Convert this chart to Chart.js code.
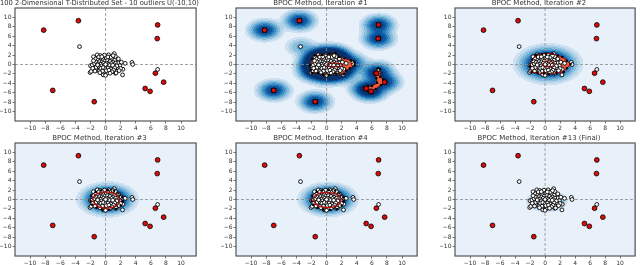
<!DOCTYPE html>
<html>
<head>
<meta charset="utf-8">
<script src="https://cdn.jsdelivr.net/npm/chart.js@4.4.1/dist/chart.umd.min.js"></script>
<style>
  html, body { margin: 0; padding: 0; background: #fff; overflow: hidden; }
  #wrap { position: relative; width: 640px; height: 265px; }
  .cell { position: absolute; }
</style>
</head>
<body>
<div id="wrap"></div>
<script>
const titles = [
  "100 2-Dimensional T-Distributed Set - 10 outliers U(-10,10)",
  "BPOC Method, Iteration #1",
  "BPOC Method, Iteration #2",
  "BPOC Method, Iteration #3",
  "BPOC Method, Iteration #4",
  "BPOC Method, Iteration #13 (Final)"
]
const tickValues = [-10, -8, -6, -4, -2, 0, 2, 4, 6, 8, 10]

// 100 t-distributed inliers (white) and 10 uniform outliers (red)
const inliers = [
  [-3.45, 3.8], [-1.6, 1.65], [-1.1, 2.05], [-0.7, 1.9], [-0.2, 1.7], [0.35, 1.85], [0.8, 1.75], [1.15, 2.3],
  [1.1, 1.45], [1.45, 0.75], [1.65, 0.4], [1.9, -0.25], [1.6, -0.7], [1.35, -1.4], [1.3, -1.85], [2.3, -1.0],
  [2.25, -2.2], [2.6, 0.25], [3.5, 0.45], [3.6, 0.0], [-2.0, -0.25], [-2.05, -1.7], [-1.9, -1.45], [-1.45, -0.3],
  [-1.1, -1.2], [-0.8, -1.0], [-0.3, -2.2], [0.05, -2.1], [0.25, -1.8], [0.55, -1.4], [0.8, -1.0], [6.9, -1.05],
  [-1.75, -0.1], [-1.45, 0.2], [2.0, -0.85], [1.4, -1.8], [0.0, -2.3], [-0.8, -1.35], [0.4, 2.05], [1.5, 1.05],
  [-1.3, 1.2], [-1.0, 0.9], [-0.6, 1.3], [-0.3, 1.05], [0.1, 1.4], [0.5, 1.2], [0.9, 1.1], [1.2, 0.9],
  [-1.2, 0.5], [-0.8, 0.6], [-0.45, 0.55], [-0.1, 0.7], [0.25, 0.85], [0.6, 0.65], [1.0, 0.5], [1.3, 0.3],
  [-1.0, 0.15], [-0.6, 0.1], [-0.25, 0.25], [0.15, 0.3], [0.45, 0.1], [0.8, 0.2], [1.15, -0.05], [1.5, -0.3],
  [-1.25, -0.6], [-0.85, -0.45], [-0.5, -0.3], [-0.15, -0.15], [0.2, -0.35], [0.55, -0.2], [0.9, -0.45], [1.2, -0.7],
  [-0.6, -0.8], [-0.3, -0.65], [0.05, -0.9], [0.35, -0.75], [0.7, -0.95], [1.05, -1.2], [-0.4, -1.4], [0.1, -1.3],
  [0.45, -1.2], [0.85, -1.55], [-0.9, 1.6], [-0.15, 2.0], [0.7, 1.55], [1.3, 1.7], [-1.6, 0.8], [-1.7, -0.8],
  [-1.4, -1.4], [1.7, 1.2], [1.8, -1.3], [-0.5, 1.65], [0.3, 1.6], [0.0, 0.0], [-0.75, -1.75], [0.6, -1.85],
  [1.0, 1.9], [-1.05, -0.1], [0.95, -0.15], [2.1, 0.5]
]
const outliers = [
  [-8.2, 7.3], [-3.6, 9.3], [6.9, 8.4], [6.85, 5.5], [-7.0, -5.5],
  [-1.5, -7.9], [5.25, -5.1], [5.9, -5.7], [6.6, -1.85], [7.7, -3.75]
]

// boundary regions (red) per iteration
const hullIter1 = [
  [-2.2, -0.2], [-1.9, 1.2], [-1.6, 1.9], [-0.6, 2.0], [0.4, 2.2], [1.2, 2.45], [1.6, 1.6], [2.4, 1.3],
  [3.2, 0.9], [3.7, 0.6], [3.7, -0.2], [3.1, -0.8], [2.6, -1.3], [2.3, -2.1], [1.3, -1.9], [0.3, -2.2],
  [-0.4, -2.2], [-1.1, -1.8], [-1.9, -1.8], [-2.1, -1.2], [-2.2, -0.2]
]
const tailIter1 = [
  [5.0, -4.9], [5.4, -5.6], [5.9, -6.05], [6.5, -5.2], [7.2, -4.4], [7.9, -3.7], [7.5, -3.2], [7.1, -2.6],
  [7.1, -1.0], [6.8, -0.8], [6.4, -1.8], [6.6, -2.9], [6.7, -3.9], [6.0, -4.6], [5.5, -4.6], [5.0, -4.9]
]
const coreIter1 = [
  [0.0, -0.1], [0.4, 0.25], [1.2, 0.3], [2.0, 0.15], [2.1, -0.3], [1.2, -0.5], [0.3, -0.45], [0.0, -0.1]
]
const hullIter2 = [
  [-2.0, -0.4], [-1.7, 1.0], [-1.2, 2.0], [-0.4, 2.2], [0.1, 2.35], [1.0, 2.3], [1.7, 1.9], [2.3, 1.6],
  [2.9, 0.8], [3.4, 0.1], [2.9, -0.8], [2.5, -1.6], [1.5, -1.8], [0.5, -2.0], [-0.1, -1.9], [-1.0, -1.8],
  [-1.8, -1.6], [-2.0, -0.4]
]
const coreIter2 = [
  [-0.3, 0.1], [0.1, 0.7], [0.7, 0.8], [1.2, 0.3], [1.0, -0.4], [0.3, -0.5], [-0.2, -0.3], [-0.3, 0.1]
]
const ringIter3 = [
  [-1.7, 0.2], [-1.4, 1.0], [-0.7, 1.5], [0.2, 1.6], [1.0, 1.4], [1.6, 0.8], [1.9, -0.1], [1.6, -1.1],
  [0.9, -1.7], [0.0, -1.9], [-0.9, -1.6], [-1.5, -0.8], [-1.7, 0.2]
]
const ringIter4 = [
  [-1.8, 0.0], [-1.5, 0.9], [-0.8, 1.4], [0.2, 1.5], [1.1, 1.3], [1.7, 0.7], [1.9, -0.2], [1.6, -1.0],
  [0.9, -1.6], [0.0, -1.7], [-0.9, -1.5], [-1.5, -0.9], [-1.8, 0.0]
]
const edgeIter34 = [
  [-2.0, -0.3], [-1.9, 0.8], [-1.3, 1.6], [-0.6, 1.9], [0.3, 2.0], [1.1, 1.9], [1.7, 1.3], [2.2, 0.5],
  [2.3, -0.4], [2.0, -1.3], [1.4, -2.0], [0.5, -2.2], [-0.4, -2.2], [-1.2, -1.8], [-1.8, -1.1]
]
const coreFinal = [
  [-0.5, 0.2], [-0.3, 0.7], [0.3, 0.85], [0.8, 0.5], [0.85, -0.1], [0.4, -0.5], [-0.2, -0.45], [-0.5, 0.2]
]

// fitted density per iteration: [cx, cy, sx, sy, peak]
const gaussIter2 = [0.4, 0.1, 1.58, 1.5, 2.6]
const gaussIter3 = [0.25, 0.0, 1.4, 1.3, 2.6]
const gaussIter4 = [0.2, 0.0, 1.38, 1.28, 2.6]
const gaussFinal = [0.25, -0.35, 1.0, 0.84, 1.5]

// Blues contour levels
const blues = ["#e8f1fa", "#cde0f1", "#b0d2e8", "#8cbfdd", "#62a8d3", "#3f8fc5", "#2171b5", "#0d58a1", "#08468b", "#08306b"]
const cuts  = [0.03, 0.07, 0.13, 0.22, 0.33, 0.47, 0.62, 0.8, 1.0]

const pts = (arr) => arr.map(([x, y]) => ({ x, y }))

function kde(x, y) {
  const h2 = 2 * 1.0 * 1.0
  let s = 0
  for (const [px, py] of inliers)  s += 0.25 * Math.exp(-((x - px) ** 2 + (y - py) ** 2) / h2)
  for (const [px, py] of outliers) s += Math.exp(-((x - px) ** 2 + (y - py) ** 2) / h2)
  return s
}
const gauss = ([cx, cy, sx, sy, a]) => (x, y) =>
  a * Math.exp(-0.5 * (((x - cx) / sx) ** 2 + ((y - cy) / sy) ** 2))

// background: filled density levels + dashed zero lines
function backdrop(field) {
  return {
    id: "backdrop",
    beforeDatasetsDraw(chart) {
      const { ctx, chartArea: a, scales: { x, y } } = chart
      ctx.save()
      if (field) {
        const l = Math.floor(a.left), r = Math.ceil(a.right)
        for (let py = Math.floor(a.top); py < a.bottom; py++) {
          const vy = y.getValueForPixel(py + 0.5)
          let start = l, cur = -1
          for (let px = l; px <= r; px++) {
            let lvl = -2
            if (px < r) {
              const v = field(x.getValueForPixel(px + 0.5), vy)
              lvl = 0
              while (lvl < cuts.length && v > cuts[lvl]) lvl++
            }
            if (lvl !== cur) {
              if (cur >= 0) { ctx.fillStyle = blues[cur]; ctx.fillRect(start, py, px - start, 1) }
              start = px; cur = lvl
            }
          }
        }
      }
      ctx.strokeStyle = "#8c8c8c"
      ctx.lineWidth = 0.8
      ctx.setLineDash([3, 2])
      const x0 = x.getPixelForValue(0), y0 = y.getPixelForValue(0)
      ctx.beginPath()
      ctx.moveTo(x0, a.top); ctx.lineTo(x0, a.bottom)
      ctx.moveTo(a.left, y0); ctx.lineTo(a.right, y0)
      ctx.stroke()
      ctx.restore()
    }
  }
}

const frame = {
  id: "frame",
  afterDatasetsDraw(chart) {
    const { ctx, chartArea: a } = chart
    ctx.save()
    ctx.strokeStyle = "#555"
    ctx.lineWidth = 1.2
    ctx.strokeRect(a.left, a.top, a.width, a.height)
    ctx.restore()
  }
}

function axis(which) {
  return {
    type: "linear", min: -12, max: 12,
    afterBuildTicks: (s) => { s.ticks = tickValues.map((v) => ({ value: v })) },
    afterFit: (s) => { if (which === "x") s.height = 11; else s.width = 15 },
    grid: { drawOnChartArea: false, drawTicks: true, tickLength: 2.5, color: "#555", lineWidth: 0.8 },
    border: { display: false },
    ticks: {
      font: { size: 6, family: "DejaVu Sans" }, color: "#333", padding: 1,
      maxRotation: 0, autoSkip: false,
      callback: (v) => String(v).replace("-", "\u2212")
    }
  }
}

const whiteDots = {
  data: pts(inliers), pointRadius: 1.9, pointBackgroundColor: "#fff",
  pointBorderColor: "#000", pointBorderWidth: 0.9
}
const redDots = (bw) => ({
  data: pts(outliers), pointRadius: 2.4, pointBackgroundColor: "#dd0a0a",
  pointBorderColor: "#000", pointBorderWidth: bw
})
const regionFill = (arr, color) => ({
  data: pts(arr), showLine: true, fill: "shape", backgroundColor: color,
  borderColor: color, borderWidth: 0.5, pointRadius: 0
})
const regionEdge = (arr, edge, width, markers) => ({
  data: pts(arr), showLine: true, fill: false,
  borderColor: edge, borderWidth: width,
  pointRadius: markers ? 1.5 : 0, pointStyle: "rect",
  pointBackgroundColor: "#000", pointBorderWidth: 0
})
const markersOnly = (arr, size) => ({
  data: pts(arr), showLine: false, pointRadius: size, pointStyle: "rect",
  pointBackgroundColor: "#000", pointBorderWidth: 0
})

const boxes = [
  [15, 8, 199, 121], [236, 8, 420, 121], [455, 8, 638, 121],
  [15, 143, 199, 256], [236, 143, 420, 256], [455, 143, 638, 256]
]

// datasets listed top-most first
const panels = [
  { field: null, datasets: [redDots(0.8), whiteDots] },
  { field: kde, datasets: [
      redDots(0.8),
      markersOnly(outliers, 3.4),
      regionEdge(coreIter1, "#8b0000", 1, false),
      regionEdge(hullIter1, "#300000", 0.8, true),
      regionEdge(tailIter1, "#300000", 0.8, true),
      whiteDots,
      regionFill(hullIter1, "#f0583c"),
      regionFill(tailIter1, "#f0583c")
  ] },
  { field: gauss(gaussIter2), datasets: [
      redDots(0.8),
      regionEdge(coreIter2, "#8b0000", 1, false),
      regionEdge(hullIter2, "#a01010", 1, true),
      whiteDots,
      regionFill(hullIter2, "#f0583c")
  ] },
  { field: gauss(gaussIter3), datasets: [
      redDots(0.8),
      regionEdge(ringIter3, "#b01010", 1.3, false),
      markersOnly(edgeIter34, 1.5),
      whiteDots,
      regionFill(ringIter3, "#e8503a")
  ] },
  { field: gauss(gaussIter4), datasets: [
      redDots(0.8),
      regionEdge(ringIter4, "#b01010", 1.3, false),
      markersOnly(edgeIter34, 1.5),
      whiteDots,
      regionFill(ringIter4, "#e8503a")
  ] },
  { field: gauss(gaussFinal), datasets: [
      redDots(0.8),
      whiteDots,
      regionEdge(coreFinal, "#a01010", 1, false),
      regionFill(coreFinal, "#e8503a")
  ] }
]

const wrap = document.getElementById("wrap")
panels.forEach((p, i) => {
  const [l, t, r, b] = boxes[i]
  const cell = document.createElement("div")
  cell.className = "cell"
  cell.style.left = (l - 15) + "px"
  cell.style.top = (t - 8) + "px"
  const cv = document.createElement("canvas")
  const w = r - l + 17, h = b - t + 19
  cv.width = w; cv.height = h
  cv.style.width = w + "px"; cv.style.height = h + "px"
  cell.appendChild(cv)
  wrap.appendChild(cell)

  new Chart(cv, {
    type: "scatter",
    data: { datasets: p.datasets },
    options: {
      responsive: false,
      animation: false,
      devicePixelRatio: 1,
      layout: { padding: { left: 0, right: 2, top: 0, bottom: 0 } },
      plugins: {
        legend: { display: false },
        tooltip: { enabled: false },
        title: {
          display: true, text: titles[i], color: "#333",
          font: { size: 7, family: "DejaVu Sans", weight: "normal", lineHeight: 1 },
          padding: { top: 0, bottom: 1 }
        }
      },
      scales: { x: axis("x"), y: axis("y") }
    },
    plugins: [backdrop(p.field), frame]
  })
})
</script>
</body>
</html>
